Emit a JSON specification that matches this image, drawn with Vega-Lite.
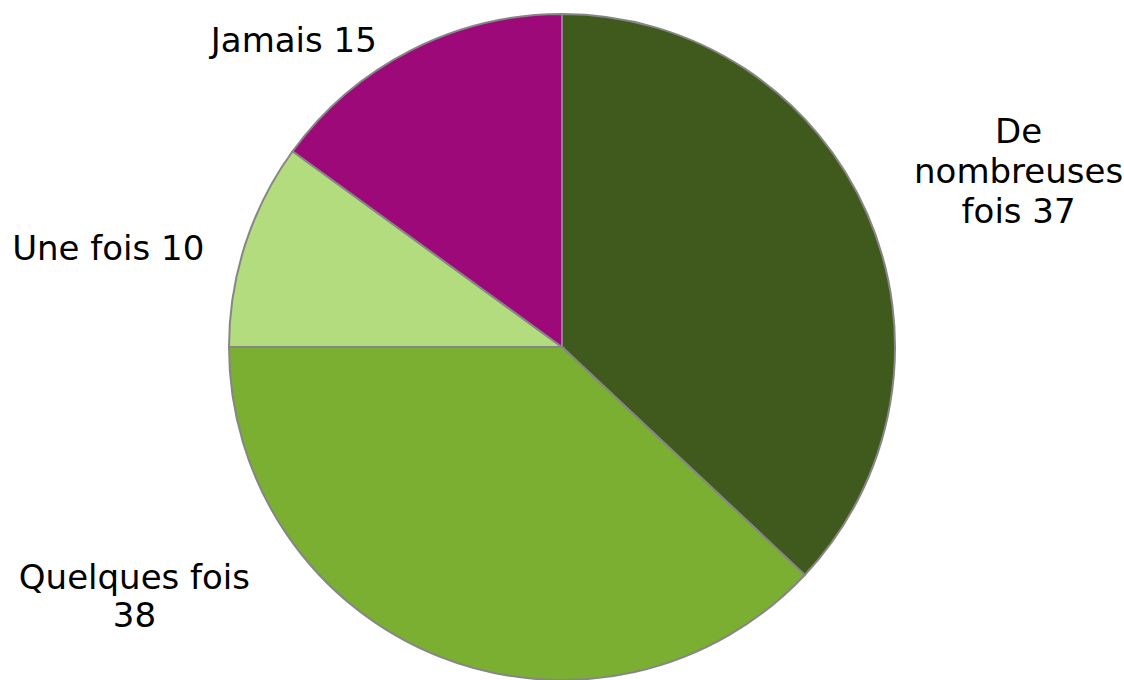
{
  "$schema": "https://vega.github.io/schema/vega-lite/v6.json",
  "width": 1124,
  "height": 680,
  "autosize": {"type": "fit", "contains": "padding"},
  "padding": {"top": 14, "bottom": 0, "left": 0, "right": 0},
  "background": "white",
  "config": {"view": {"stroke": null}, "text": {"font": "DejaVu Sans", "fontSize": 34, "color": "#000000"}},
  "data": {"values": [
    {"category": "De nombreuses fois", "value": 37, "label": ["De", "nombreuses", "fois 37"]},
    {"category": "Quelques fois", "value": 38, "label": ["Quelques fois", "38"]},
    {"category": "Une fois", "value": 10, "label": ["Une fois 10"]},
    {"category": "Jamais", "value": 15, "label": ["Jamais 15"]}
  ]},
  "transform": [
    {"calculate": "indexof(['De nombreuses fois','Quelques fois','Une fois','Jamais'], datum.category)", "as": "idx"},
    {"stack": "value", "groupby": [], "sort": [{"field": "idx", "order": "ascending"}], "as": ["v0", "v1"]},
    {"calculate": "(datum.v0 + datum.v1) / 2", "as": "mid"}
  ],
  "layer": [
    {
      "mark": {"type": "arc", "radius": 333, "stroke": "#868686", "strokeWidth": 2},
      "encoding": {
        "theta": {"field": "v0", "type": "quantitative", "scale": {"domain": [0, 100]}},
        "theta2": {"field": "v1"},
        "color": {
          "field": "category", "type": "nominal", "legend": null,
          "scale": {"domain": ["De nombreuses fois", "Quelques fois", "Une fois", "Jamais"],
                    "range": ["#3F5A1C", "#7AAF31", "#B3DC7E", "#9E097A"]}
        }
      }
    },
    {
      "transform": [{"filter": "datum.category == 'De nombreuses fois'"}],
      "mark": {"type": "text", "radius": 333, "dx": 151, "dy": -82, "align": "center", "baseline": "middle", "lineHeight": 40},
      "encoding": {"theta": {"field": "mid", "type": "quantitative", "scale": {"domain": [0, 100]}}, "text": {"field": "label"}}
    },
    {
      "transform": [{"filter": "datum.category == 'Quelques fois'"}],
      "mark": {"type": "text", "radius": 333, "dx": -305, "dy": -78, "align": "center", "baseline": "middle", "lineHeight": 38},
      "encoding": {"theta": {"field": "mid", "type": "quantitative", "scale": {"domain": [0, 100]}}, "text": {"field": "label"}}
    },
    {
      "transform": [{"filter": "datum.category == 'Une fois'"}],
      "mark": {"type": "text", "radius": 333, "dx": -41, "dy": 6, "align": "right", "baseline": "middle"},
      "encoding": {"theta": {"field": "mid", "type": "quantitative", "scale": {"domain": [0, 100]}}, "text": {"field": "label"}}
    },
    {
      "transform": [{"filter": "datum.category == 'Jamais'"}],
      "mark": {"type": "text", "radius": 333, "dx": -117, "dy": -8, "align": "center", "baseline": "middle"},
      "encoding": {"theta": {"field": "mid", "type": "quantitative", "scale": {"domain": [0, 100]}}, "text": {"field": "label"}}
    }
  ]
}
